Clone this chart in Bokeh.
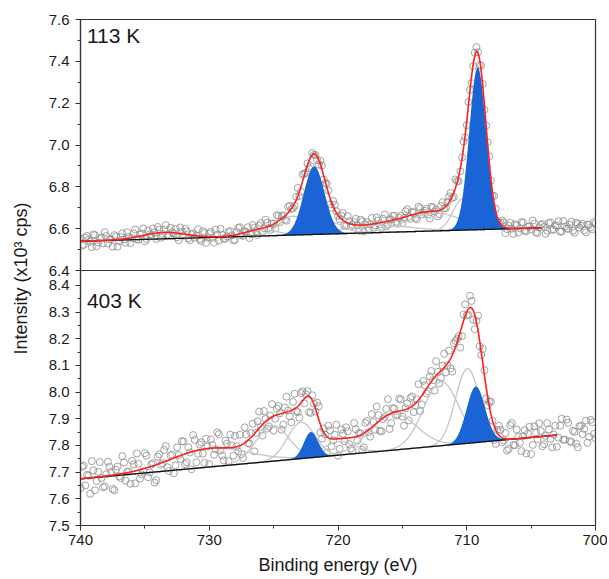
import math
import numpy as np
from bokeh.plotting import figure
from bokeh.models import Range1d, FixedTicker, PrintfTickFormatter, Label
from bokeh.layouts import row, column
from bokeh.embed import file_html
from bokeh.resources import INLINE

FONT = "Liberation Sans"
TXT = "#1a1a1a"
AX = "#333333"
BLUE = "#1a64d6"
GREY_COMP = "#c6c6c6"
RED = "#ff2020"
PT = "#8c8c8c"

# ---------------- data ----------------
# two measurement sweeps on interleaved binding-energy grids (eV), 0.25 eV step
scan1_start, scan2_start, energy_step = 740.0, 739.875, 0.25
energy_1 = [round(scan1_start - energy_step * i, 3) for i in range(161)]
energy_2 = [round(scan2_start - energy_step * i, 3) for i in range(160)]

counts_113K_1 = [
    6.552, 6.523, 6.566, 6.537, 6.573, 6.516, 6.551, 6.530, 6.565, 6.549,
    6.514, 6.563, 6.540, 6.578, 6.532, 6.561, 6.555, 6.596, 6.547, 6.577,
    6.540, 6.591, 6.568, 6.582, 6.608, 6.557, 6.595, 6.571, 6.604, 6.577,
    6.559, 6.606, 6.566, 6.588, 6.544, 6.577, 6.567, 6.550, 6.588, 6.532,
    6.576, 6.556, 6.595, 6.543, 6.570, 6.553, 6.585, 6.568, 6.546, 6.604,
    6.569, 6.587, 6.607, 6.573, 6.604, 6.570, 6.627, 6.602, 6.628, 6.594,
    6.624, 6.665, 6.632, 6.664, 6.638, 6.709, 6.698, 6.752, 6.756, 6.860,
    6.867, 6.889, 6.962, 6.952, 6.906, 6.902, 6.817, 6.783, 6.700, 6.714,
    6.661, 6.663, 6.615, 6.660, 6.610, 6.631, 6.615, 6.643, 6.586, 6.631,
    6.621, 6.605, 6.653, 6.620, 6.647, 6.610, 6.644, 6.661, 6.633, 6.652,
    6.626, 6.683, 6.657, 6.681, 6.651, 6.705, 6.667, 6.685, 6.667, 6.705,
    6.682, 6.659, 6.709, 6.696, 6.727, 6.771, 6.751, 6.828, 6.874, 7.017,
    7.095, 7.263, 7.377, 7.468, 7.383, 7.292, 7.093, 6.946, 6.758, 6.695,
    6.627, 6.639, 6.579, 6.615, 6.600, 6.621, 6.582, 6.631, 6.590, 6.609,
    6.596, 6.624, 6.579, 6.618, 6.608, 6.590, 6.630, 6.596, 6.614, 6.585,
    6.637, 6.601, 6.619, 6.590, 6.628, 6.605, 6.623, 6.582, 6.618, 6.597,
    6.626,
]
counts_113K_2 = [
    6.519, 6.558, 6.547, 6.512, 6.569, 6.534, 6.558, 6.583, 6.529, 6.550,
    6.569, 6.514, 6.560, 6.548, 6.583, 6.531, 6.577, 6.550, 6.572, 6.601,
    6.551, 6.573, 6.601, 6.551, 6.594, 6.575, 6.617, 6.567, 6.583, 6.598,
    6.545, 6.586, 6.600, 6.553, 6.573, 6.557, 6.597, 6.541, 6.580, 6.557,
    6.585, 6.533, 6.571, 6.599, 6.551, 6.563, 6.588, 6.544, 6.585, 6.607,
    6.565, 6.585, 6.555, 6.617, 6.588, 6.615, 6.583, 6.643, 6.603, 6.625,
    6.601, 6.661, 6.660, 6.643, 6.705, 6.694, 6.709, 6.795, 6.777, 6.861,
    6.912, 6.899, 6.953, 6.928, 6.925, 6.835, 6.816, 6.716, 6.732, 6.683,
    6.645, 6.675, 6.613, 6.635, 6.619, 6.647, 6.590, 6.635, 6.620, 6.599,
    6.651, 6.615, 6.639, 6.603, 6.668, 6.621, 6.645, 6.662, 6.623, 6.662,
    6.651, 6.693, 6.647, 6.676, 6.645, 6.698, 6.677, 6.695, 6.649, 6.701,
    6.690, 6.669, 6.727, 6.699, 6.754, 6.747, 6.835, 6.827, 6.940, 7.037,
    7.206, 7.296, 7.441, 7.443, 7.379, 7.169, 7.013, 6.830, 6.756, 6.633,
    6.630, 6.630, 6.598, 6.628, 6.575, 6.616, 6.601, 6.630, 6.588, 6.611,
    6.639, 6.583, 6.606, 6.622, 6.576, 6.627, 6.594, 6.615, 6.635, 6.587,
    6.610, 6.599, 6.633, 6.581, 6.622, 6.615, 6.592, 6.620, 6.605, 6.632,
]

counts_403K_1 = [
    7.640, 7.724, 7.690, 7.619, 7.707, 7.667, 7.738, 7.643, 7.692, 7.720,
    7.637, 7.709, 7.684, 7.760, 7.668, 7.702, 7.743, 7.658, 7.731, 7.692,
    7.771, 7.681, 7.729, 7.661, 7.758, 7.728, 7.783, 7.718, 7.762, 7.696,
    7.793, 7.749, 7.815, 7.737, 7.774, 7.839, 7.737, 7.804, 7.769, 7.825,
    7.730, 7.801, 7.786, 7.842, 7.762, 7.818, 7.742, 7.800, 7.836, 7.778,
    7.767, 7.868, 7.808, 7.847, 7.778, 7.891, 7.869, 7.929, 7.863, 7.912,
    7.856, 7.938, 7.921, 7.878, 7.983, 7.909, 7.963, 7.929, 7.904, 8.003,
    7.992, 7.925, 7.988, 7.927, 7.947, 7.826, 7.841, 7.874, 7.797, 7.840,
    7.762, 7.860, 7.816, 7.853, 7.788, 7.884, 7.818, 7.845, 7.793, 7.892,
    7.833, 7.888, 7.946, 7.855, 7.899, 7.937, 7.862, 7.940, 7.912, 7.976,
    7.908, 7.940, 7.894, 7.984, 7.951, 8.030, 7.954, 8.025, 8.003, 8.079,
    8.006, 8.076, 8.053, 8.144, 8.101, 8.089, 8.183, 8.199, 8.167, 8.291,
    8.288, 8.361, 8.271, 8.267, 8.172, 8.162, 7.977, 7.964, 7.893, 7.806,
    7.874, 7.812, 7.847, 7.787, 7.884, 7.801, 7.833, 7.779, 7.857, 7.844,
    7.768, 7.872, 7.824, 7.854, 7.805, 7.884, 7.825, 7.841, 7.795, 7.874,
    7.822, 7.897, 7.816, 7.855, 7.807, 7.872, 7.842, 7.893, 7.833, 7.887,
    7.827,
]
counts_403K_2 = [
    7.720, 7.650, 7.687, 7.741, 7.632, 7.701, 7.678, 7.647, 7.739, 7.701,
    7.632, 7.721, 7.678, 7.736, 7.701, 7.656, 7.729, 7.770, 7.676, 7.703,
    7.762, 7.699, 7.733, 7.670, 7.767, 7.734, 7.798, 7.704, 7.766, 7.725,
    7.764, 7.816, 7.730, 7.793, 7.711, 7.821, 7.769, 7.812, 7.735, 7.796,
    7.823, 7.765, 7.849, 7.781, 7.744, 7.807, 7.841, 7.762, 7.797, 7.840,
    7.753, 7.841, 7.807, 7.882, 7.847, 7.927, 7.837, 7.900, 7.871, 7.955,
    7.900, 7.948, 7.859, 7.942, 7.931, 7.887, 7.994, 7.925, 7.997, 7.958,
    8.004, 7.922, 7.957, 7.961, 7.848, 7.864, 7.773, 7.857, 7.819, 7.878,
    7.788, 7.844, 7.868, 7.805, 7.781, 7.861, 7.846, 7.784, 7.885, 7.850,
    7.918, 7.859, 7.914, 7.853, 7.907, 7.974, 7.884, 7.938, 7.915, 7.972,
    7.874, 7.958, 7.978, 7.925, 7.973, 7.928, 8.042, 7.995, 8.059, 8.045,
    8.116, 8.033, 8.099, 8.074, 8.156, 8.077, 8.192, 8.210, 8.210, 8.329,
    8.289, 8.342, 8.236, 8.287, 8.139, 8.082, 7.951, 7.964, 7.821, 7.858,
    7.859, 7.819, 7.781, 7.876, 7.802, 7.860, 7.810, 7.835, 7.770, 7.870,
    7.802, 7.849, 7.883, 7.797, 7.836, 7.860, 7.793, 7.874, 7.829, 7.900,
    7.822, 7.885, 7.813, 7.851, 7.793, 7.874, 7.862, 7.810, 7.896, 7.843,
]

# linear backgrounds (fit window end points)
bg_113K_x = [740.0, 704.2]
bg_113K_y = [6.540, 6.604]
bg_403K_x = [740.0, 703.0]
bg_403K_y = [7.675, 7.839]

# fitted components: centre (eV), height above background, FWHM (eV), highlighted
comp_113K_center = [733.5, 726.0, 723.5, 721.85, 720.6, 717.0, 712.5, 710.3, 709.15]
comp_113K_height = [0.030, 0.030, 0.090, 0.325, 0.055, 0.035, 0.085, 0.150, 0.775]
comp_113K_fwhm = [4.0, 3.0, 2.5, 1.9, 2.5, 6.0, 5.0, 1.8, 1.55]
comp_113K_blue = [False, False, False, True, False, False, False, False, True]

comp_403K_center = [730.0, 725.1, 722.87, 722.1, 720.0, 715.7, 712.0, 709.95, 709.3]
comp_403K_height = [0.070, 0.134, 0.136, 0.096, 0.050, 0.135, 0.240, 0.280, 0.210]
comp_403K_fwhm = [7.0, 3.0, 2.5, 1.3, 3.0, 4.2, 3.2, 2.2, 1.7]
comp_403K_blue = [False, False, False, True, False, False, False, False, True]

x_ticks = [700, 710, 720, 730, 740]
x_minor = [705, 715, 725, 735]
y_ticks_113K = [6.4, 6.6, 6.8, 7.0, 7.2, 7.4, 7.6]
y_minor_113K = [6.5, 6.7, 6.9, 7.1, 7.3, 7.5]
y_ticks_403K = [7.5, 7.6, 7.7, 7.8, 7.9, 8.0, 8.1, 8.2, 8.3, 8.4]
y_minor_403K = [7.55, 7.65, 7.75, 7.85, 7.95, 8.05, 8.15, 8.25, 8.35]


def style_y(p, ticks, minor):
    ax = p.yaxis[0]
    ax.ticker = FixedTicker(ticks=ticks, minor_ticks=minor)
    ax.formatter = PrintfTickFormatter(format="%.1f")
    ax.major_tick_out = 5
    ax.major_tick_in = 0
    ax.minor_tick_out = 3
    ax.minor_tick_in = 0
    ax.axis_line_color = AX
    ax.axis_line_width = 1.2
    ax.major_tick_line_color = AX
    ax.minor_tick_line_color = AX
    ax.major_label_text_font = FONT
    ax.major_label_text_font_size = "15px"
    ax.major_label_text_color = TXT
    ax.major_label_standoff = 6


def draw_panel(p, scans, bg_x, bg_y, centers, heights, fwhms, blue):
    for ex, cy in scans:
        p.scatter(ex, cy, marker="circle", size=7, fill_alpha=0,
                  line_color=PT, line_width=0.8)
    xf = np.linspace(bg_x[0], bg_x[1], 700)
    bg = bg_y[0] + (bg_y[1] - bg_y[0]) * (xf - bg_x[0]) / (bg_x[1] - bg_x[0])
    total = bg.copy()
    comps = []
    for c, h, w, b in zip(centers, heights, fwhms, blue):
        g = h * np.exp(-4.0 * math.log(2.0) * (xf - c) ** 2 / w ** 2)
        comps.append((g, b))
        total = total + g
    for g, b in comps:
        if not b:
            p.line(xf, bg + g, line_color=GREY_COMP, line_width=1.3)
    for g, b in comps:
        if b:
            p.varea(x=xf, y1=bg, y2=bg + g, fill_color=BLUE)
    p.line(xf, bg, line_color="#111111", line_width=1.3)
    p.line(xf, total, line_color=RED, line_width=1.6)


common = dict(output_backend="svg", toolbar_location=None,
              x_range=Range1d(740, 700), min_border_left=44, min_border_right=12,
              outline_line_color=AX, outline_line_width=1.2)

top = figure(width=571, height=280, y_range=Range1d(6.4, 7.6),
             min_border_top=19, min_border_bottom=10, x_axis_location=None, **common)
bot = figure(width=571, height=309, y_range=Range1d(7.5, 8.456),
             min_border_top=0, min_border_bottom=54,
             styles={"margin-top": "-10px"}, **common)

for p in (top, bot):
    p.grid.visible = False
    p.background_fill_color = "white"
top.border_fill_color = "white"
bot.border_fill_alpha = 0

style_y(top, y_ticks_113K, y_minor_113K)
style_y(bot, y_ticks_403K, y_minor_403K)

xa = bot.xaxis[0]
xa.ticker = FixedTicker(ticks=x_ticks, minor_ticks=x_minor)
xa.formatter = PrintfTickFormatter(format="%d")
xa.major_tick_out = 5
xa.major_tick_in = 0
xa.minor_tick_out = 3
xa.minor_tick_in = 0
xa.axis_line_color = AX
xa.axis_line_width = 1.2
xa.major_tick_line_color = AX
xa.minor_tick_line_color = AX
xa.major_label_text_font = FONT
xa.major_label_text_font_size = "15px"
xa.major_label_text_color = TXT
xa.major_label_standoff = 4
xa.axis_label = "Binding energy (eV)"
xa.axis_label_text_font = FONT
xa.axis_label_text_font_size = "18px"
xa.axis_label_text_font_style = "normal"
xa.axis_label_text_color = TXT
xa.axis_label_standoff = 7

draw_panel(top, [(energy_1, counts_113K_1), (energy_2, counts_113K_2)],
           bg_113K_x, bg_113K_y, comp_113K_center, comp_113K_height,
           comp_113K_fwhm, comp_113K_blue)
draw_panel(bot, [(energy_1, counts_403K_1), (energy_2, counts_403K_2)],
           bg_403K_x, bg_403K_y, comp_403K_center, comp_403K_height,
           comp_403K_fwhm, comp_403K_blue)

top.add_layout(Label(x=739.5, y=7.578, text="113 K", text_font=FONT,
                     text_font_size="21px", text_color=TXT,
                     text_align="left", text_baseline="top"))
bot.add_layout(Label(x=739.5, y=8.385, text="403 K", text_font=FONT,
                     text_font_size="21px", text_color=TXT,
                     text_align="left", text_baseline="top"))

lab = figure(width=36, height=579, x_range=Range1d(0, 1), y_range=Range1d(0, 1),
             output_backend="svg", toolbar_location=None, min_border=0,
             x_axis_location=None, y_axis_location=None, outline_line_color=None)
lab.grid.visible = False
lab.add_layout(Label(x=0.56, y=0.52, text="Intensity (x10³ cps)", angle=math.pi / 2,
                     text_font=FONT, text_font_size="18px", text_color=TXT,
                     text_align="center", text_baseline="middle"))

layout = row(lab, column(top, bot, spacing=0), spacing=0)

with open("out.html", "w") as f:
    f.write(file_html(layout, INLINE))
